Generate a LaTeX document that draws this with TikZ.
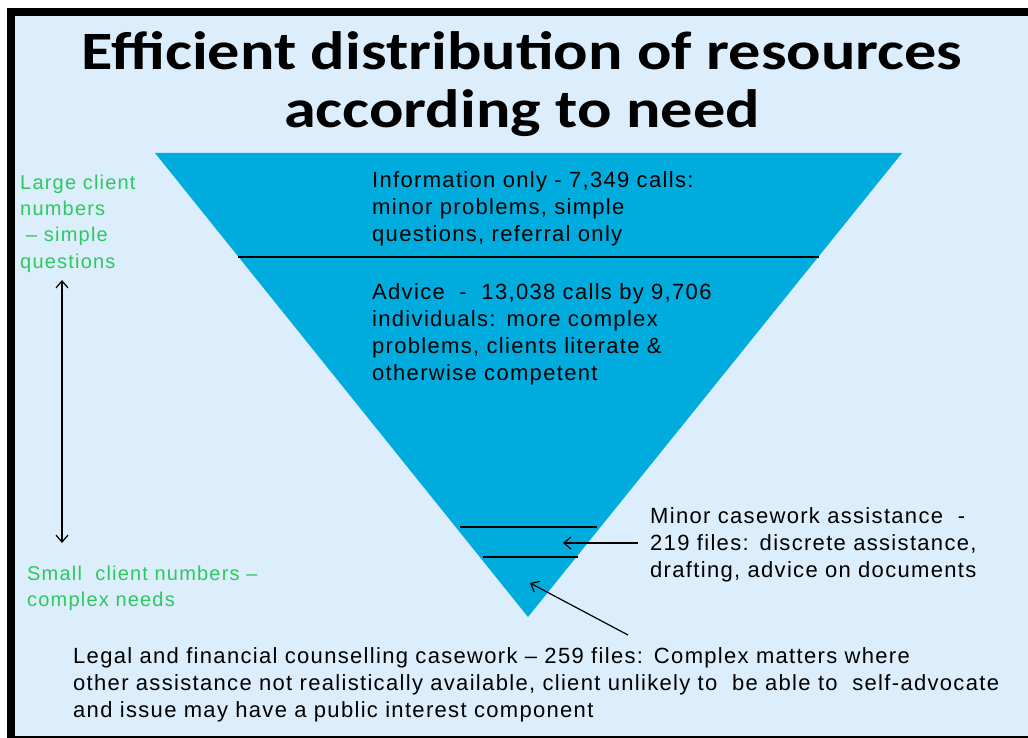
\documentclass[tikz,border=0pt]{standalone}
\usepackage{fontspec}
\setmainfont[LetterSpace=6]{Liberation Sans}
\newfontfamily\titlefont[FakeStretch=1.19]{Carlito}
\usetikzlibrary{arrows.meta}
\usetikzlibrary{positioning}
\definecolor{paleblue}{RGB}{220,237,252}
\definecolor{funnelblue}{RGB}{0,172,222}
\definecolor{needgreen}{RGB}{45,200,95}
\tikzset{
    tier/.style = {line width=1.6pt},
    pointer/.style = {line width=1.2pt,-{Straight Barb[length=7pt,width=12pt]}},
    span/.style = {line width=1.2pt,{Straight Barb[length=7pt,width=12pt]}-{Straight Barb[length=7pt,width=12pt]}},
    body/.style = {inner sep=0,anchor=base west,text width=960pt,align=left,font=\fontsize{22}{27}\selectfont},
    side/.style = {body,text=needgreen,font=\fontsize{20}{26}\selectfont},
    heading/.style = {inner sep=0,anchor=base,font=\titlefont\bfseries\fontsize{54}{56}\selectfont}
}

\begin{document}
\begin{tikzpicture}[x=1pt,y=-1pt]
        \useasboundingbox (0,0) rectangle (1028,738);
        % Frame
        \fill[white] (0,0) rectangle (1028,738);
        \fill[black] (7,8) rectangle (1028,738);
        \fill[paleblue] (15,16) rectangle (1028,736);
        % Title
        \node[heading] (title) at (522,70) {Efficient distribution of resources};
        \node[heading] (subtitle) at (522,128) {according to need};
        % Funnel
        \path (155,153) coordinate (ftl)
            to (902,153) coordinate (ftr)
            to (528,617) coordinate (ftip)
        ;
        \fill[funnelblue] (ftl) -- (ftr) -- (ftip) -- cycle;
        % Tier ends
        \path (238,257) coordinate (ia) to (819,257) coordinate (ib);
        \path (460,527) coordinate (ma) to (597,527) coordinate (mb);
        \path (483,557) coordinate (la) to (578,557) coordinate (lb);
        \foreach \src/\dest in {ia/ib,ma/mb,la/lb}
            \draw[tier] (\src) to (\dest);
        % Tier texts
        \node[body] (info) at (372,188)
            {Information only - 7,349 calls:\\minor problems, simple\\questions, referral only};
        \node[body] (advice) at (372,299)
            {Advice \ - \ 13,038 calls by 9,706\\individuals: more complex\\problems, clients literate \&\\otherwise competent};
        \node[body] (minor) at (650,523)
            {Minor casework assistance \ -\\219 files: discrete assistance,\\drafting, advice on documents};
        \node[body] (legal) at (73,663)
            {Legal and financial counselling casework -- 259 files: Complex matters where\\other assistance not realistically available, client unlikely to \ be able to \ self-advocate\\and issue may have a public interest component};
        % Client numbers
        \node[side] (large) at (20,190)
            {Large client\\numbers\\\hspace*{6pt}-- simple\\questions};
        \node[side] (small) at (27,580)
            {Small \ client numbers --\\complex needs};
        % Pointers
        \path (62,280) coordinate (up) to (62,543) coordinate (down);
        \path (638,543) coordinate (mfrom) to (563,543) coordinate (mto);
        \path (628,635) coordinate (lfrom) to (530,583) coordinate (lto);
        \draw[span] (up) to (down);
        \foreach \src/\dest in {mfrom/mto,lfrom/lto}
            \draw[pointer] (\src) to (\dest);
    \end{tikzpicture}
\end{document}
